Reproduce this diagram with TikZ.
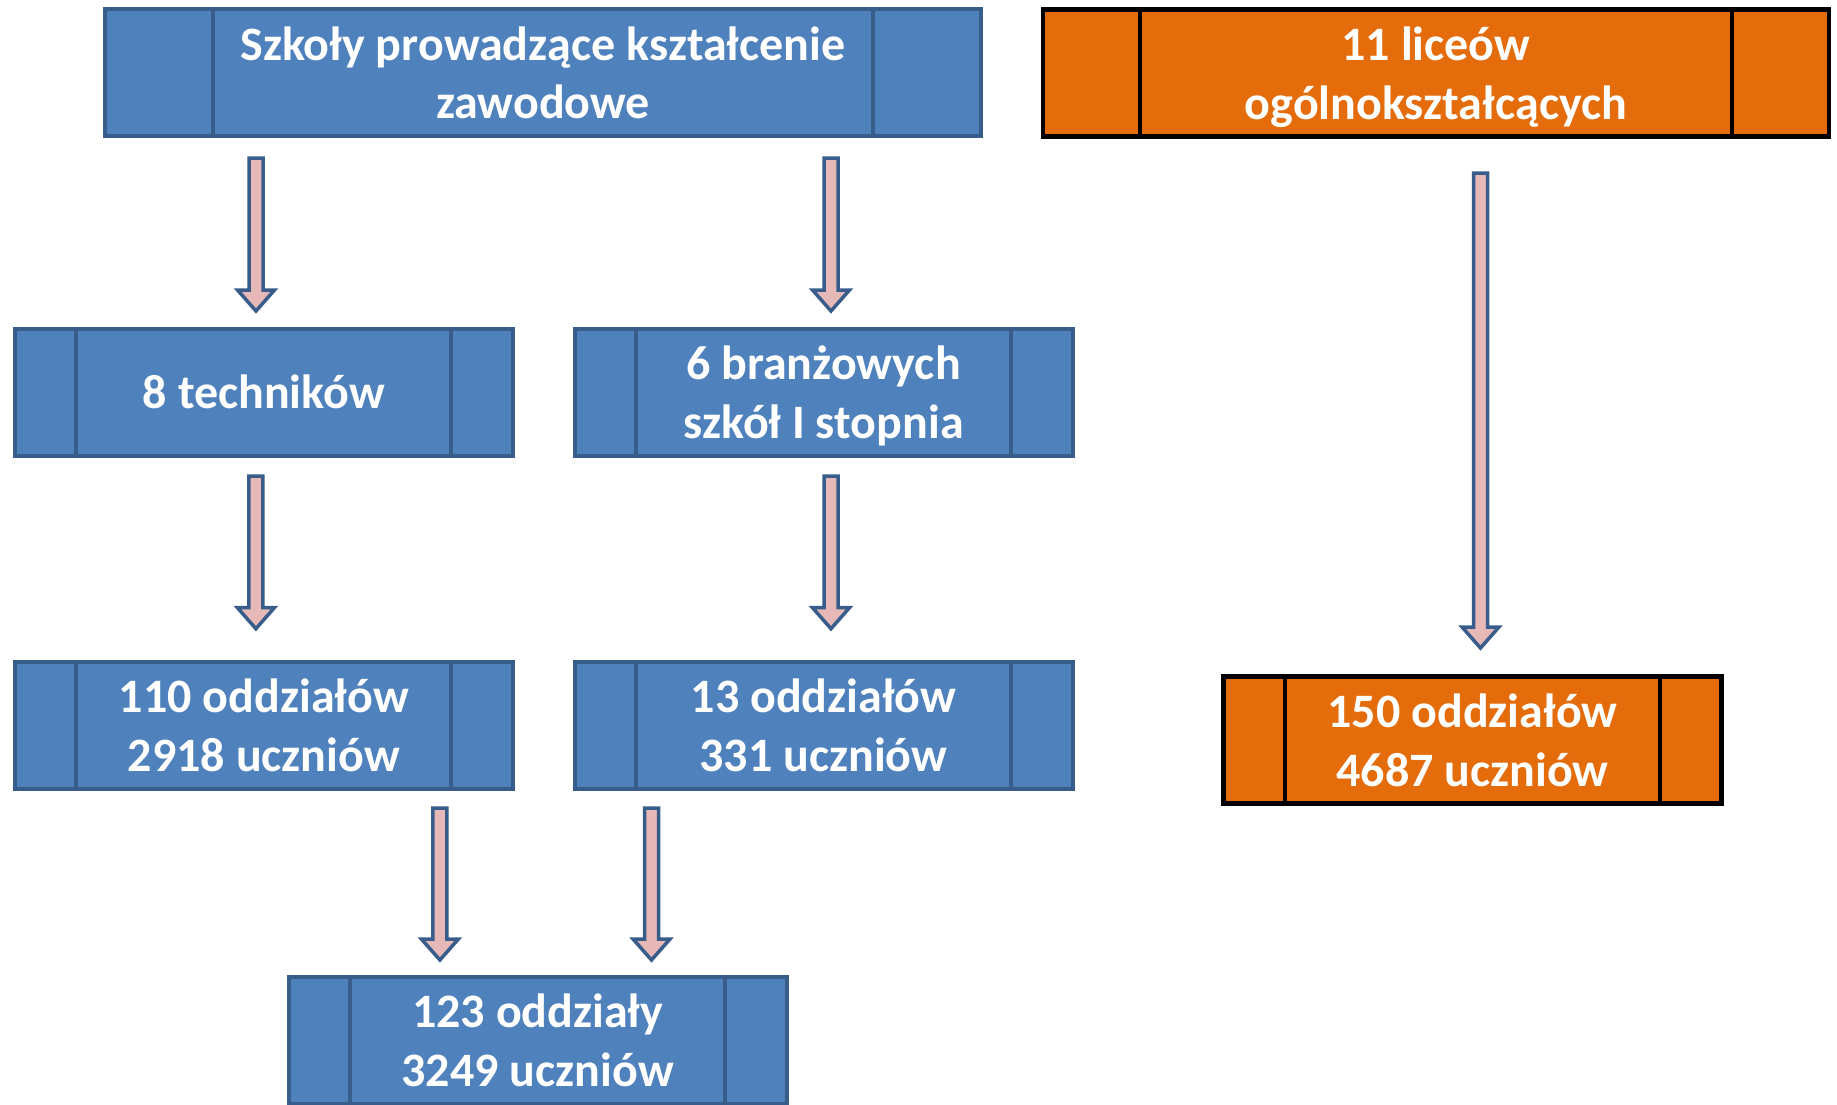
\documentclass[tikz,border=0pt]{standalone}
\usepackage{fontspec}
\setmainfont{Carlito}
\usetikzlibrary{calc}
\definecolor{bfill}{HTML}{4F81BD}
\definecolor{bline}{HTML}{385D8A}
\definecolor{ofill}{HTML}{E46C0A}
\definecolor{apink}{HTML}{E6B9B8}
\newcommand\dividers[3]{%
  \draw[#3] ([xshift=#2pt]#1.north west) -- ([xshift=#2pt]#1.south west);
  \draw[#3] ([xshift=-#2pt]#1.north east) -- ([xshift=-#2pt]#1.south east);}
\newcommand\blockarrow[2]{%
  \draw[barrow] let \p1=(#1), \p2=(#2) in
    (\x1-7pt,\y1) -- (\x1-7pt,\y2+21pt) -- (\x1-18.5pt,\y2+21pt) -- (\x1,\y2)
    -- (\x1+18.5pt,\y2+21pt) -- (\x1+7pt,\y2+21pt) -- (\x1+7pt,\y1) -- cycle;}
\begin{document}
\begin{tikzpicture}[x=1pt,y=1pt,
  box/.style={draw=bline, fill=bfill, line width=4pt, outer sep=0pt,
    minimum width=498pt, minimum height=127pt, inner sep=0pt, text=white,
    font=\fontsize{48}{58.8}\selectfont\bfseries, align=center},
  obox/.style={box, draw=black, fill=ofill, line width=4.5pt},
  div/.style={draw=bline, line width=4pt},
  odiv/.style={draw=black, line width=4.5pt},
  barrow/.style={draw=bline, fill=apink, line width=3.5pt, line join=miter}]
\useasboundingbox (0,0) rectangle (1837,-1104);
\clip (0,0) rectangle (1837,-1104);
\node[box, minimum width=876pt] (top) at (543,-72.8) {Szkoły prowadzące kształcenie\\zawodowe};
\node[obox, minimum width=786pt] (lic) at (1436,-72.8) {11 liceów\\\smash{ogólnokształcących}};
\node[box] (tech) at (263.9,-392) {8 techników};
\node[box] (bran) at (823.5,-392) {6 branżowych\\\smash{szkół I stopnia}};
\node[box] (od1) at (263.9,-725.2) {110 oddziałów\\2918 uczniów};
\node[box] (od2) at (823.5,-725.2) {13 oddziałów\\331 uczniów};
\node[box] (sum) at (537.7,-1040) {123 oddziały\\3249 uczniów};
\node[obox] (od3) at (1472.5,-740) {150 oddziałów\\4687 uczniów};
\dividers{top}{107.6}{div}
\dividers{lic}{96.8}{odiv}
\dividers{tech}{61.5}{div}
\dividers{bran}{61.5}{div}
\dividers{od1}{61.5}{div}
\dividers{od2}{61.5}{div}
\dividers{sum}{61.5}{div}
\dividers{od3}{61.5}{odiv}
\blockarrow{[xshift=-287pt,yshift=-21.7pt]top.south}{[yshift=17.5pt]tech.north}
\blockarrow{[xshift=288pt,yshift=-21.7pt]top.south}{[yshift=17.5pt]bran.north}
\blockarrow{[xshift=-8pt,yshift=-20.5pt]tech.south}{[yshift=33pt]od1.north}
\blockarrow{[xshift=7.5pt,yshift=-20.5pt]bran.south}{[yshift=33pt]od2.north}
\blockarrow{[xshift=176pt,yshift=-19.3pt]od1.south}{[yshift=16.5pt]sum.north}
\blockarrow{[xshift=-172pt,yshift=-19.3pt]od2.south}{[yshift=16.5pt]sum.north}
\blockarrow{[xshift=44.5pt,yshift=-36.7pt]lic.south}{[yshift=28.5pt]od3.north}
\end{tikzpicture}
\end{document}
